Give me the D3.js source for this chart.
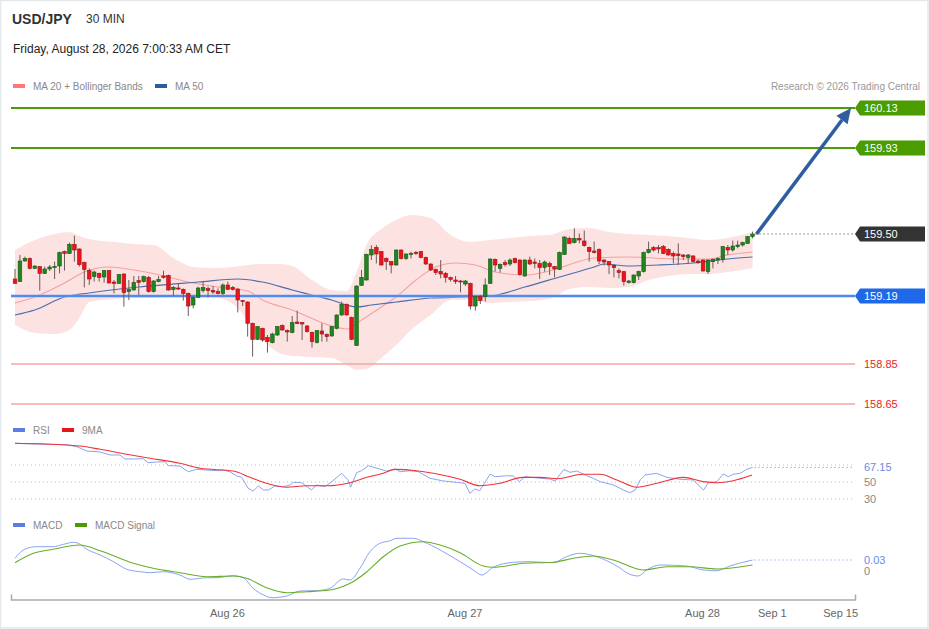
<!DOCTYPE html>
<html><head><meta charset="utf-8">
<script src="https://cdn.jsdelivr.net/npm/d3@7/dist/d3.min.js"></script>
<style>body{margin:0;background:#fff;} svg{display:block;font-family:"Liberation Sans",Arial,sans-serif;}</style>
</head><body><svg id="c" width="929" height="629"></svg>
<script>
// ---------- DATA ----------
const opens=[159.275,159.262,159.365,159.377,159.328,159.337,159.303,159.325,159.332,159.34,
159.412,159.403,159.448,159.425,159.357,159.318,159.287,159.303,159.285,159.317,
159.26,159.253,159.3,159.212,159.22,159.267,159.262,159.283,159.212,159.262,
159.29,159.293,159.223,159.23,159.223,159.203,159.145,159.183,159.217,159.227,
159.217,159.212,159.203,159.245,159.233,159.225,159.167,159.16,159.053,158.973,
159.028,158.983,158.957,158.995,159.042,159.017,159.008,159.06,159.057,159.04,
159.008,158.957,159.015,158.998,158.99,159.028,159.095,159.148,159.083,158.942,
159.243,159.27,159.395,159.433,159.412,159.378,159.362,159.345,159.42,159.378,
159.398,159.408,159.412,159.383,159.35,159.323,159.313,159.303,159.282,159.27,
159.265,159.25,159.253,159.14,159.187,159.187,159.253,159.373,159.328,159.357,
159.35,159.377,159.37,159.29,159.37,159.36,159.353,159.333,159.353,159.337,
159.323,159.398,159.478,159.457,159.478,159.465,159.433,159.415,159.423,159.37,
159.362,159.343,159.317,159.312,159.257,159.257,159.29,159.312,159.407,159.432,
159.432,159.437,159.423,159.403,159.4,159.395,159.383,159.39,159.365,159.37,
159.312,159.362,159.37,159.373,159.433,159.42,159.437,159.445,159.453,159.487];
const highs=[159.325,159.395,159.387,159.383,159.343,159.34,159.337,159.345,159.362,159.412,
159.417,159.457,159.492,159.428,159.362,159.328,159.317,159.307,159.32,159.32,
159.27,159.3,159.303,159.27,159.29,159.29,159.292,159.29,159.27,159.29,
159.317,159.297,159.24,159.253,159.228,159.207,159.19,159.237,159.262,159.237,
159.24,159.228,159.253,159.262,159.24,159.228,159.17,159.163,159.057,159.04,
159.032,158.995,159.007,159.04,159.048,159.023,159.09,159.117,159.06,159.045,
159.012,159.02,159.053,159.003,159.04,159.098,159.162,159.153,159.087,159.243,
159.32,159.402,159.443,159.445,159.415,159.383,159.365,159.423,159.423,159.403,
159.412,159.415,159.415,159.387,159.353,159.327,159.37,159.31,159.287,159.29,
159.27,159.27,159.257,159.192,159.195,159.278,159.378,159.378,159.353,159.37,
159.378,159.382,159.373,159.373,159.387,159.378,159.37,159.367,159.362,159.34,
159.412,159.488,159.487,159.528,159.503,159.517,159.437,159.462,159.428,159.373,
159.365,159.347,159.328,159.315,159.27,159.298,159.317,159.412,159.462,159.44,
159.445,159.445,159.428,159.412,159.453,159.4,159.4,159.395,159.373,159.373,
159.373,159.378,159.383,159.44,159.445,159.467,159.467,159.462,159.49,159.512];
const lows=[159.253,159.262,159.362,159.323,159.325,159.217,159.3,159.315,159.275,159.303,
159.317,159.4,159.362,159.337,159.233,159.245,159.262,159.262,159.257,159.253,
159.203,159.25,159.137,159.17,159.217,159.195,159.257,159.207,159.207,159.258,
159.277,159.217,159.192,159.22,159.167,159.09,159.128,159.182,159.207,159.183,
159.2,159.198,159.195,159.22,159.217,159.108,159.14,158.987,158.887,158.97,
158.962,158.907,158.953,158.99,159.017,158.962,159.003,159.05,158.97,159.007,
158.932,158.953,158.962,158.962,158.987,159.023,159.092,159.092,158.97,158.942,
159.24,159.267,159.37,159.353,159.342,159.32,159.303,159.342,159.373,159.37,
159.378,159.395,159.378,159.345,159.315,159.295,159.278,159.257,159.262,159.25,
159.208,159.24,159.123,159.117,159.15,159.162,159.25,159.312,159.307,159.337,
159.34,159.353,159.293,159.287,159.345,159.328,159.275,159.312,159.295,159.283,
159.32,159.395,159.45,159.453,159.453,159.437,159.362,159.403,159.35,159.342,
159.3,159.283,159.278,159.242,159.253,159.253,159.27,159.307,159.403,159.412,
159.403,159.4,159.392,159.353,159.345,159.37,159.353,159.357,159.35,159.312,
159.3,159.328,159.35,159.357,159.395,159.412,159.428,159.437,159.45,159.478];
const closes=[159.253,159.365,159.378,159.328,159.34,159.303,159.325,159.335,159.338,159.407,
159.403,159.448,159.42,159.347,159.323,159.275,159.31,159.283,159.317,159.255,
159.253,159.297,159.207,159.223,159.257,159.257,159.287,159.212,159.265,159.273,
159.283,159.22,159.233,159.227,159.203,159.14,159.183,159.23,159.232,159.217,
159.21,159.203,159.245,159.223,159.223,159.17,159.162,159.053,158.973,159.037,
158.97,158.962,159.0,159.037,159.02,159.01,159.057,159.052,159.05,159.012,
158.962,159.017,159.0,158.987,159.037,159.095,159.148,159.095,158.973,159.24,
159.283,159.398,159.423,159.4,159.345,159.362,159.345,159.42,159.377,159.4,
159.403,159.403,159.383,159.35,159.32,159.307,159.3,159.283,159.273,159.263,
159.262,159.265,159.14,159.187,159.167,159.245,159.375,159.345,159.348,159.347,
159.37,159.357,159.297,159.37,159.35,159.353,159.332,159.36,159.337,159.325,
159.407,159.485,159.453,159.478,159.47,159.442,159.412,159.407,159.365,159.36,
159.345,159.332,159.307,159.262,159.265,159.295,159.312,159.407,159.423,159.42,
159.425,159.403,159.395,159.39,159.392,159.387,159.395,159.362,159.357,159.315,
159.37,159.373,159.378,159.437,159.42,159.44,159.445,159.457,159.487,159.50];

// Bollinger bands (sampled at candle indices)
const bbIdx=[0,4,8,11,13,15,20,24,28,32,36,40,44,47,50,53,56,60,64,67,69,71,74,77,80,84,88,92,96,100,104,108,112,116,120,124,128,132,136,140,144,149];
const bbUpper=[159.42,159.47,159.50,159.51,159.49,159.475,159.46,159.45,159.445,159.38,159.335,159.33,159.335,159.345,159.35,159.35,159.34,159.27,159.22,159.215,159.31,159.445,159.525,159.57,159.595,159.58,159.495,159.46,159.47,159.48,159.49,159.495,159.525,159.53,159.51,159.50,159.495,159.49,159.48,159.47,159.48,159.51];
const bbLower=[159.045,159.005,159.0,159.02,159.08,159.16,159.175,159.18,159.18,159.185,159.185,159.185,159.15,159.07,158.97,158.91,158.89,158.885,158.88,158.845,158.82,158.825,158.88,158.945,159.02,159.095,159.17,159.17,159.155,159.16,159.165,159.175,159.225,159.235,159.23,159.235,159.27,159.29,159.30,159.30,159.31,159.33];
const ma20Idx=[0,4,10,14,19,24,31,35,41,47,50,56,64,67,70,74,77,81,85,89,93,97,103,110,113,117,124,134,140,144,149];
const ma20Val=[159.155,159.185,159.255,159.31,159.335,159.32,159.285,159.26,159.235,159.215,159.17,159.12,159.04,159.025,159.07,159.135,159.185,159.27,159.335,159.355,159.345,159.31,159.295,159.33,159.355,159.38,159.385,159.375,159.375,159.395,159.41];
const ma50Idx=[0,4,10,15,25,37,45,50,56,60,64,67,69,72,77,84,91,96,103,110,117,119,124,130,137,144,149];
const ma50Val=[159.095,159.12,159.185,159.205,159.235,159.26,159.275,159.26,159.22,159.195,159.17,159.145,159.135,159.145,159.16,159.18,159.185,159.19,159.235,159.285,159.335,159.35,159.34,159.345,159.355,159.375,159.385];

// Price levels
const resistLevels=[160.13,159.93];
const supportLevel=159.19;
const lowLevels=[158.85,158.65];
const lastPrice=159.50;
const targetPrice=160.13;

// RSI & 9MA  [candle index, value]
const rsiPts=[[0,95.5],[3.7,94.7],[10.4,93.9],[12.5,91.5],[14.5,86.5],[17.2,85.3],[19.2,81.8],[21.2,81.8],[22.2,77.1],[23.9,77.1],[25.9,77.4],[26.9,72.7],[28.6,73.5],[30.3,73.9],[31,69.2],[33.3,68.8],[35,62.1],[36.7,64.9],[38.7,64.1],[40.7,63.3],[42.1,64.1],[43.4,62.1],[44.8,57.1],[45.8,55.5],[47.1,42.6],[48.1,39.4],[49.2,45.3],[50.2,40.6],[51.2,40.6],[52.5,45.3],[54.2,44.5],[55.6,46.5],[56.2,49.6],[57.9,49.2],[59.9,40.6],[60.9,46.5],[62.6,44.5],[64,50.4],[66,60.2],[67.3,52.4],[67.8,43.8],[69,60.9],[70,63.3],[71.4,69.2],[73.1,66.1],[75.1,62.9],[76.8,65.3],[77.8,62.1],[79.8,63.3],[81.5,62.1],[83.8,54.4],[86.5,51.2],[89.2,49.6],[90.9,48.5],[91.9,36.7],[92.9,41.8],[93.9,39.8],[96,59.4],[97,56.2],[99.3,57.4],[100.7,57.1],[101.9,50.4],[103,56.2],[106.1,54.4],[108.1,53.5],[109.1,51.2],[110.9,64.9],[112.1,61.4],[113.5,62.9],[115.5,57.4],[116.8,54.4],[118.2,50.4],[120.9,46.5],[122.9,40.6],[124.2,37.4],[125.3,40.6],[126.3,52.4],[127.3,58.2],[129.6,60.2],[131.7,55.5],[134.3,53.2],[137,52.4],[138,46.5],[139.1,40.6],[140.1,49.2],[141.8,50.4],[143.1,59.4],[144.1,56.2],[145.1,59.1],[146.5,60.2],[147.8,64.9],[149,67.15]];
const ma9Pts=[[0,95.5],[10.4,93.5],[13.1,92.4],[17.2,88.5],[22.6,82.6],[27.3,77.9],[33.3,72],[37.4,66.1],[44.1,62.9],[47.5,55.5],[51.5,47.3],[54.9,43.8],[58.9,45.6],[63,45.6],[67.7,49.2],[71.1,55.5],[74.4,60.2],[76.8,64.9],[81.1,63.3],[84.5,60.2],[89.9,53.2],[93.9,45.6],[98,48.5],[102.6,55.5],[106.1,55.5],[109.5,53.9],[114.7,59.1],[118.2,59.1],[121.6,52.4],[125.7,43.8],[129.7,48.5],[135,55.5],[139,50.4],[141.8,49.2],[145.1,51.5],[148.9,58.2]];
const rsiLevels=[70,50,30];
const rsiLast=67.15;

// MACD & signal [candle index, value]
const macdPts=[[0,0.0346],[1,0.0499],[2.4,0.0619],[4.4,0.0663],[7.7,0.0663],[9.8,0.0728],[11.8,0.0783],[12.8,0.0755],[14.5,0.0592],[17.2,0.0436],[19.9,0.0254],[22.6,0.0046],[25.3,-0.0019],[27.3,-0.0046],[30,-0.0019],[33.3,-0.0109],[35.4,-0.0226],[38.7,-0.0183],[40.7,-0.0183],[44.1,-0.0128],[46.1,-0.0183],[48.1,-0.0472],[50.2,-0.0654],[51.9,-0.0728],[54.9,-0.0682],[57.6,-0.0545],[60.9,-0.0537],[63.6,-0.0472],[66.3,-0.0218],[67.7,-0.0245],[69.7,0.0074],[71.7,0.0526],[73.7,0.0755],[75.8,0.0826],[77.1,0.0892],[80.5,0.0892],[82.5,0.0799],[85.9,0.0573],[89.9,0.0254],[92.6,0.0027],[94.3,-0.0109],[96.6,0.0101],[100.7,0.0237],[104,0.0254],[108.7,0.0226],[111.4,0.039],[114.1,0.0483],[117.5,0.039],[121.6,0.0136],[124.2,-0.009],[125.9,-0.0136],[127.6,0.0027],[130.3,0.0164],[135.7,0.0136],[139.1,0.0027],[141.8,0.0008],[144.4,0.0136],[149,0.03]];
const sigPts=[[0,0.0226],[3.7,0.0483],[7.7,0.0592],[13.1,0.0709],[17.2,0.0554],[23.9,0.021],[27.9,0.0074],[33.3,-0.0046],[38.7,-0.0155],[44.1,-0.0136],[46.8,-0.0199],[50.8,-0.0455],[54.9,-0.0592],[58.9,-0.0564],[63.6,-0.0518],[67.7,-0.0335],[71.1,-0.0019],[74.4,0.039],[77.8,0.0682],[82.5,0.0799],[85.9,0.0709],[89.9,0.0499],[94.6,0.0136],[96.6,0.0101],[102.7,0.021],[108.7,0.0237],[112.8,0.0346],[116.8,0.0409],[120.9,0.03],[126.9,0.0027],[131.7,0.0117],[136.4,0.0117],[141.8,0.0055],[149,0.0164]];
const macdLast=0.03;

// X axis ticks (candle-index positions)
const xTickIdx=[42.8,90.8,138.8,152.9,166.7];
const xTickLab=["Aug 26","Aug 27","Aug 28","Sep 1","Sep 15"];

// ---------- CHART ----------
const svg=d3.select('#c');
const n=closes.length;
const PL=11, PR=855, TAGX=855;
const x=d3.scaleLinear().domain([0,149]).range([15,752.55]);
const y=d3.scaleLinear().domain([158.65,160.13]).range([404,108]);
const yR=d3.scaleLinear().domain([30,70]).range([499,465]);
const yM=d3.scaleLinear().domain([0,0.03]).range([571,560]);

svg.append('rect').attr('x',0.5).attr('y',0.5).attr('width',927.5).attr('height',627.5)
  .attr('fill','#fff').attr('stroke','#e3e8ec').attr('stroke-width',1.5);

// header
svg.append('text').attr('x',12).attr('y',24).attr('font-size',14).attr('font-weight','bold').attr('fill','#333').text('USD/JPY');
svg.append('text').attr('x',86).attr('y',23).attr('font-size',12).attr('fill','#333').text('30 MIN');
svg.append('text').attr('x',13).attr('y',53).attr('font-size',12).attr('fill','#222').text('Friday, August 28, 2026 7:00:33 AM CET');

function legend(items, yy){
  items.forEach(it=>{
    svg.append('rect').attr('x',it.x).attr('y',yy-2).attr('width',12).attr('height',4).attr('fill',it.c);
    svg.append('text').attr('x',it.x+20).attr('y',yy+3.5).attr('font-size',10).attr('fill','#888').text(it.t);
  });
}
legend([{x:13,c:'#f77',t:'MA 20 + Bollinger Bands'},{x:155,c:'#2f5c9c',t:'MA 50'}],86);
svg.append('text').attr('x',920).attr('y',89.5).attr('text-anchor','end').attr('font-size',10).attr('fill','#999').text('Research \u00a9 2026 Trading Central');
legend([{x:13,c:'#5b7fe0',t:'RSI'},{x:62,c:'#e8161b',t:'9MA'}],430);
legend([{x:13,c:'#5b7fe0',t:'MACD'},{x:75,c:'#4a9a00',t:'MACD Signal'}],525);

// Bollinger band
const bb=bbIdx.map((d,i)=>({i:d,u:bbUpper[i],l:bbLower[i]}));
svg.append('path').datum(bb)
  .attr('d',d3.area().x(d=>x(d.i)).y0(d=>y(d.l)).y1(d=>y(d.u)).curve(d3.curveMonotoneX))
  .attr('fill','#fde2e2');
svg.append('path').datum(ma20Idx.map((d,i)=>[d,ma20Val[i]]))
  .attr('d',d3.line().x(d=>x(d[0])).y(d=>y(d[1])).curve(d3.curveMonotoneX))
  .attr('fill','none').attr('stroke','#f7a0a0').attr('stroke-width',1.1);
svg.append('path').datum(ma50Idx.map((d,i)=>[d,ma50Val[i]]))
  .attr('d',d3.line().x(d=>x(d[0])).y(d=>y(d[1])).curve(d3.curveMonotoneX))
  .attr('fill','none').attr('stroke','#4a6fae').attr('stroke-width',1.2);

// horizontal levels
resistLevels.forEach(v=>{
  svg.append('line').attr('x1',PL).attr('x2',TAGX).attr('y1',y(v)).attr('y2',y(v)).attr('stroke','#4c9c06').attr('stroke-width',2);
});
svg.append('line').attr('x1',PL).attr('x2',TAGX).attr('y1',y(supportLevel)).attr('y2',y(supportLevel)).attr('stroke','#9dbdf5').attr('stroke-width',3);
svg.append('line').attr('x1',PL).attr('x2',TAGX).attr('y1',y(supportLevel)).attr('y2',y(supportLevel)).attr('stroke','#3a7be6').attr('stroke-width',1.4);
lowLevels.forEach(v=>{
  svg.append('line').attr('x1',PL).attr('x2',TAGX).attr('y1',y(v)).attr('y2',y(v)).attr('stroke','#f5a5a5').attr('stroke-width',1.5);
  svg.append('text').attr('x',864).attr('y',y(v)+4).attr('font-size',11).attr('fill','#ee2222').text(v.toFixed(2));
});
svg.append('line').attr('x1',x(n-1)+3).attr('x2',853).attr('y1',y(lastPrice)).attr('y2',y(lastPrice))
  .attr('stroke','#333').attr('stroke-width',1).attr('stroke-dasharray','1,3');

// candles
const idx=d3.range(n);
const cw=3.6;
svg.append('g').selectAll('line').data(idx).join('line')
  .attr('x1',i=>x(i)).attr('x2',i=>x(i)).attr('y1',i=>y(highs[i])).attr('y2',i=>y(lows[i]))
  .attr('stroke','#6b5c5c').attr('stroke-width',1);
svg.append('g').selectAll('rect').data(idx).join('rect')
  .attr('x',i=>x(i)-cw/2).attr('width',cw)
  .attr('y',i=>y(Math.max(opens[i],closes[i])))
  .attr('height',i=>Math.max(1,Math.abs(y(opens[i])-y(closes[i]))))
  .attr('fill',i=>closes[i]>=opens[i]?'#20851f':'#e8161b')
  .attr('stroke',i=>closes[i]>=opens[i]?'#145a14':'#a31014').attr('stroke-width',0.6);

// price tags
function tag(v,col){
  const yy=y(v);
  svg.append('path').attr('d',`M${TAGX},${yy} L${TAGX+5},${yy-7.5} L925,${yy-7.5} L925,${yy+7.5} L${TAGX+5},${yy+7.5} Z`).attr('fill',col);
  svg.append('text').attr('x',864).attr('y',yy+4).attr('font-size',11).attr('fill','#fff').text(v.toFixed(2));
}
tag(resistLevels[0],'#4a9c00');
tag(resistLevels[1],'#4a9c00');
tag(lastPrice,'#333333');
tag(supportLevel,'#1f68e8');

// arrow
{
  const x0=x(n-1)+4, y0=y(lastPrice), x1=TAGX-4, y1=y(targetPrice);
  const ang=Math.atan2(y1-y0,x1-x0), L=15, Wd=7;
  const bx=x1-L*Math.cos(ang), by=y1-L*Math.sin(ang);
  svg.append('line').attr('x1',x0).attr('y1',y0).attr('x2',bx).attr('y2',by).attr('stroke','#2f5d9f').attr('stroke-width',3.6);
  const px=-Math.sin(ang), py=Math.cos(ang);
  svg.append('path').attr('d',`M${x1},${y1} L${bx+px*Wd},${by+py*Wd} L${bx-px*Wd},${by-py*Wd} Z`).attr('fill','#2f5d9f');
}

// RSI panel
rsiLevels.forEach(v=>{
  svg.append('line').attr('x1',PL).attr('x2',853).attr('y1',yR(v)).attr('y2',yR(v)).attr('stroke','#bbb').attr('stroke-width',1).attr('stroke-dasharray','1,3');
});
svg.append('path').datum(rsiPts).attr('d',d3.line().x(d=>x(d[0])).y(d=>yR(d[1])))
  .attr('fill','none').attr('stroke','#8ba4ee').attr('stroke-width',1);
svg.append('path').datum(ma9Pts).attr('d',d3.line().x(d=>x(d[0])).y(d=>yR(d[1])).curve(d3.curveMonotoneX))
  .attr('fill','none').attr('stroke','#f0323a').attr('stroke-width',1.1);
svg.append('line').attr('x1',x(n-1)+2).attr('x2',853).attr('y1',yR(rsiLast)).attr('y2',yR(rsiLast)).attr('stroke','#6a8be6').attr('stroke-width',1).attr('stroke-dasharray','1,3');
svg.append('text').attr('x',864).attr('y',yR(rsiLast)+4).attr('font-size',11).attr('fill','#6a8be6').text(rsiLast.toFixed(2));
[50,30].forEach(v=>svg.append('text').attr('x',864).attr('y',yR(v)+4).attr('font-size',11).attr('fill','#888').text(v));

// MACD panel
svg.append('path').datum(macdPts).attr('d',d3.line().x(d=>x(d[0])).y(d=>yM(d[1])).curve(d3.curveMonotoneX))
  .attr('fill','none').attr('stroke','#8ba4ee').attr('stroke-width',1);
svg.append('path').datum(sigPts).attr('d',d3.line().x(d=>x(d[0])).y(d=>yM(d[1])).curve(d3.curveMonotoneX))
  .attr('fill','none').attr('stroke','#6aad2a').attr('stroke-width',1.1);
svg.append('line').attr('x1',x(n-1)+2).attr('x2',853).attr('y1',yM(macdLast)).attr('y2',yM(macdLast)).attr('stroke','#6a8be6').attr('stroke-width',1).attr('stroke-dasharray','1,3');
svg.append('text').attr('x',864).attr('y',yM(macdLast)+4).attr('font-size',11).attr('fill','#6a8be6').text(macdLast.toFixed(2));
svg.append('text').attr('x',864).attr('y',yM(0)+4).attr('font-size',11).attr('fill','#888').text('0');

// X axis
const xa=d3.scaleLinear().domain([x.invert(PL),x.invert(PR)]).range([PL,PR]);
const ax=svg.append('g').attr('transform','translate(0,599.5)')
  .call(d3.axisBottom(xa).tickValues(xTickIdx).tickFormat((d,i)=>xTickLab[i]).tickSizeInner(0).tickSizeOuter(-5).tickPadding(9.5));
ax.select('.domain').attr('stroke','#aaa').attr('stroke-width',1.5);
ax.selectAll('text').attr('font-size',11).attr('fill','#666').attr('font-family','"Liberation Sans",Arial,sans-serif');
</script>
</body></html>
